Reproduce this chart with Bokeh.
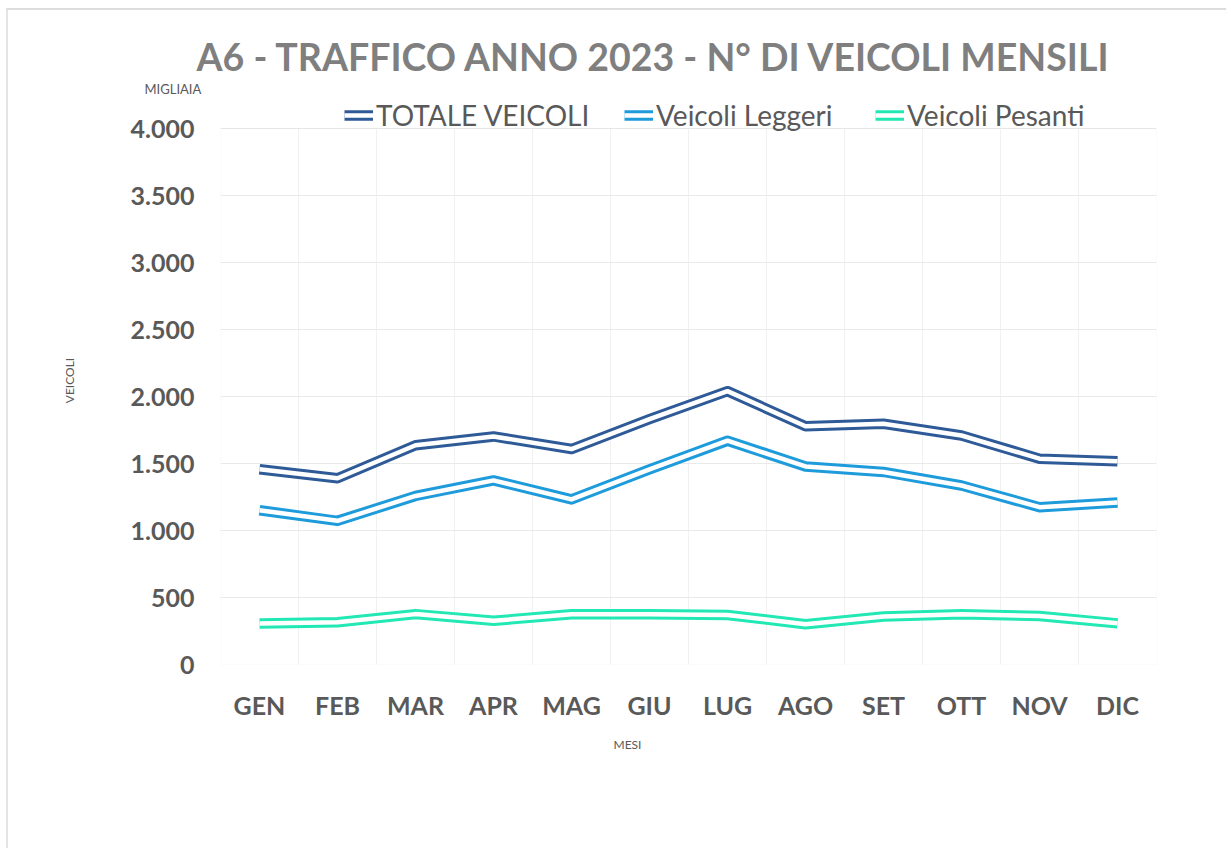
from bokeh.plotting import figure
from bokeh.models import Title, Legend, LegendItem, FixedTicker, FactorRange, Range1d, BoxAnnotation
from bokeh.embed import file_html
from bokeh.resources import INLINE

months = ["GEN", "FEB", "MAR", "APR", "MAG", "GIU", "LUG", "AGO", "SET", "OTT", "NOV", "DIC"]
totale = [1457, 1390, 1636, 1702, 1608, 1831, 2040, 1778, 1797, 1709, 1536, 1516]
leggeri = [1151, 1072, 1258, 1374, 1232, 1456, 1670, 1478, 1437, 1336, 1174, 1209]
pesanti = [306, 316, 376, 326, 375, 375, 369, 301, 358, 375, 362, 307]
y_ticks = [0, 500, 1000, 1500, 2000, 2500, 3000, 3500, 4000]
y_tick_labels = ["0", "500", "1.000", "1.500", "2.000", "2.500", "3.000", "3.500", "4.000"]
series_names = ["TOTALE VEICOLI", "Veicoli Leggeri", "Veicoli Pesanti"]
series_colors = ["#2E5A98", "#1E9BDB", "#22E8B4"]
y_max = 4000

FONT = "Lato"
W, H = 1220, 840
# frame spans 568 px; 536 px correspond to the 0..4000 plot area
y_top = y_max * 568 / 536

p = figure(
    width=W, height=H,
    x_range=FactorRange(*months, range_padding=0),
    y_range=Range1d(0, y_top),
    output_backend="svg", toolbar_location=None, title_location=None,
    min_border_left=212, min_border_right=72,
    min_border_top=86, min_border_bottom=186,
)
p.styles = {"border-top": "2px solid #dcdcdc", "border-left": "2px solid #e4e4e4",
            "margin-left": "6px", "margin-top": "8px"}
p.background_fill_color = "white"
p.border_fill_color = "white"
p.outline_line_color = None
p.add_layout(BoxAnnotation(bottom=0, top=y_max, fill_alpha=0, line_color="#e2e2e2",
                           line_width=1, level="underlay"))

# grids
p.ygrid.ticker = FixedTicker(ticks=y_ticks)
p.ygrid.grid_line_color = "#e9e9e9"
p.xgrid.ticker = FixedTicker(ticks=list(range(1, len(months))))
p.xgrid.grid_line_color = "#f1f1f1"
p.xgrid.cross_bounds = (0, y_max)

# axes
p.yaxis.ticker = FixedTicker(ticks=y_ticks)
p.yaxis.major_label_overrides = {t: l for t, l in zip(y_ticks, y_tick_labels)}
for ax in (p.xaxis[0], p.yaxis[0]):
    ax.axis_line_color = None
    ax.major_tick_line_color = None
    ax.minor_tick_line_color = None
    ax.major_label_text_font = FONT
    ax.major_label_text_font_style = "bold"
    ax.major_label_text_font_size = "25px"
    ax.major_label_text_color = "#595959"
p.yaxis.major_label_standoff = 20
p.xaxis.major_label_standoff = 19
p.yaxis.axis_label = "VEICOLI"
p.yaxis.axis_label_text_font = FONT
p.yaxis.axis_label_text_font_style = "normal"
p.yaxis.axis_label_text_font_size = "12px"
p.yaxis.axis_label_text_color = "#595959"
p.yaxis.axis_label_standoff = 51

series = [totale, leggeri, pesanti]
legend_x = [124, 404, 655]
for name, vals, col, lx in zip(series_names, series, series_colors, legend_x):
    r1 = p.line(months, vals, line_width=10.5, line_color=col, line_join="round")
    r2 = p.line(months, vals, line_width=4.5, line_color="white", line_join="round")
    lg = Legend(items=[LegendItem(label=name, renderers=[r1, r2])],
                location=(lx, 532), orientation="horizontal",
                background_fill_alpha=0, border_line_color=None,
                padding=0, margin=0, spacing=0,
                glyph_width=29, glyph_height=20, label_standoff=3,
                label_text_font=FONT, label_text_font_size="28px",
                label_text_color="#595959", label_height=20)
    p.add_layout(lg, "center")

p.add_layout(Title(text="MIGLIAIA", align="left", offset=-76, standoff=0,
                   text_font=FONT, text_font_style="normal", text_font_size="13px",
                   text_color="#595959"), "above")
p.add_layout(Title(text="A6 - TRAFFICO ANNO 2023 - N° DI VEICOLI  MENSILI", align="left",
                   offset=-24, standoff=0,
                   text_font=FONT, text_font_style="bold", text_font_size="37.5px",
                   text_color="#7f7f7f"), "above")
p.add_layout(Title(text="MESI", align="left", offset=393, standoff=25,
                   text_font=FONT, text_font_style="normal", text_font_size="12px",
                   text_color="#595959"), "below")

open("out.html", "w").write(file_html(p, INLINE))
